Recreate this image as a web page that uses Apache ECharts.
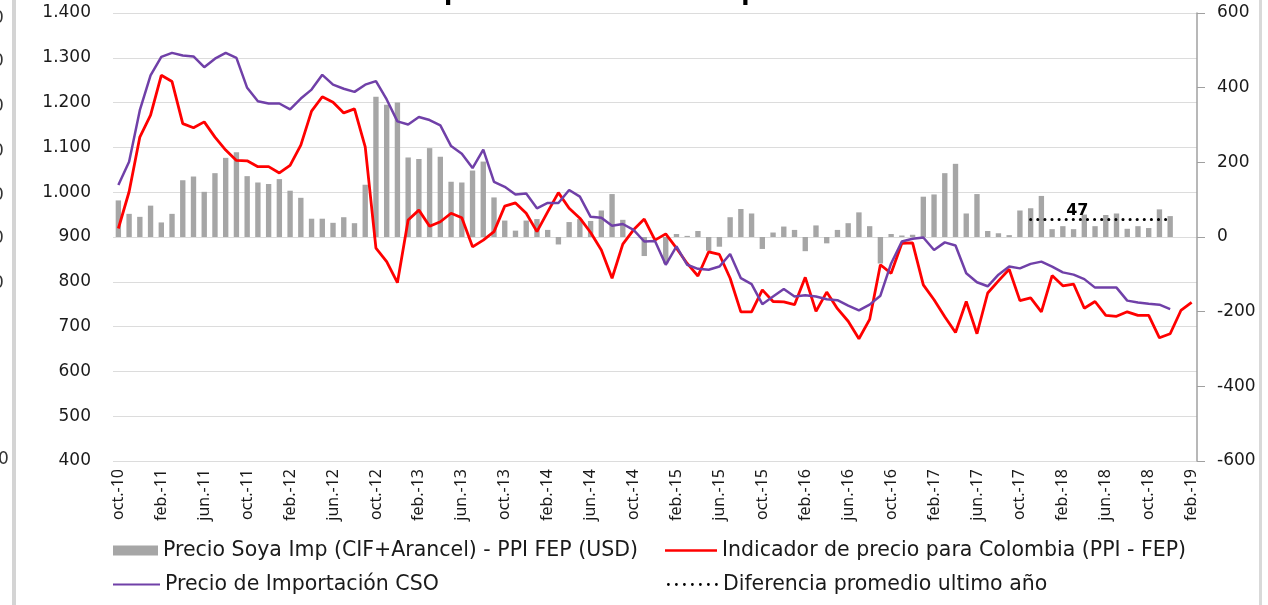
<!DOCTYPE html>
<html>
<head>
<meta charset="utf-8">
<script src="https://cdn.jsdelivr.net/npm/echarts@6/dist/echarts.min.js"></script>
<style>
  html, body { margin: 0; padding: 0; background: #ffffff; }
  #chart { width: 1268px; height: 605px; }
</style>
</head>
<body>
<div id="chart"></div>
<script>
// Monthly categories oct-10 .. feb-19
const monthNames = ['ene.', 'feb.', 'mar.', 'abr.', 'may.', 'jun.', 'jul.', 'ago.', 'sep.', 'oct.', 'nov.', 'dic.'];
const categories = [];
for (let k = 0; k < 101; k++) {
  const m = (9 + k) % 12;
  const y = 10 + Math.floor((9 + k) / 12);
  categories.push(monthNames[m] + '-' + y);
}

// Soya import price minus PPI FEP (USD), right axis
const soyaDiff = [
  98, 62, 54, 84, 39, 62, 152, 162, 121, 171, 212, 227, 163, 146, 142, 155, 124, 105, 49, 49,
  38, 53, 37, 140, 376, 354, 360, 213, 209, 238, 215, 148, 146, 178, 202, 106, 44, 17, 44, 48,
  19, -20, 40, 48, 43, 71, 115, 46, 0, -51, 0, -71, 8, 3, 16, -37, -26, 53, 75, 63,
  -32, 12, 28, 19, -38, 31, -17, 19, 37, 66, 29, -71, 8, 4, 6, 108, 114, 171, 196, 63,
  115, 16, 10, 5, 71, 77, 110, 21, 29, 21, 60, 29, 59, 63, 22, 29, 24, 74, 56, null,
  null
];

// Price indicator for Colombia (PPI - FEP), left axis
const indicadorColombia = [
  919, 1001, 1123, 1172, 1261, 1247, 1153, 1144, 1157, 1123, 1094, 1071, 1070, 1057, 1057, 1043, 1060, 1105, 1181, 1213,
  1201, 1177, 1186, 1101, 875, 845, 798, 938, 960, 924, 934, 953, 943, 878, 893, 912, 969, 976, 953, 912,
  956, 999, 964, 942, 910, 871, 808, 884, 916, 940, 893, 907, 875, 841, 813, 867, 861, 808, 733, 733,
  782, 756, 755, 749, 810, 734, 777, 740, 712, 673, 716, 838, 819, 886, 887, 793, 760, 722, 687, 756,
  684, 775, 802, 828, 758, 764, 733, 814, 791, 795, 741, 756, 725, 723, 733, 725, 725, 675, 684, 736,
  754
];

// CSO import price, left axis
const precioImportacionCSO = [
  1016, 1068, 1183, 1261, 1302, 1311, 1305, 1303, 1279, 1298, 1311, 1300, 1233, 1203, 1198, 1198, 1185, 1209, 1229, 1262,
  1240, 1231, 1224, 1240, 1248, 1207, 1158, 1151, 1168, 1161, 1149, 1103, 1086, 1054, 1095, 1023, 1012, 995, 997, 964,
  976, 976, 1005, 990, 945, 943, 925, 929, 916, 890, 891, 838, 879, 838, 829, 827, 834, 862, 808, 795,
  750, 767, 784, 767, 770, 767, 761, 759, 747, 736, 749, 769, 841, 890, 896, 899, 871, 888, 881, 819,
  799, 790, 816, 834, 830, 840, 845, 834, 821, 816, 806, 787, 787, 787, 758, 754, 751, 749, 739, null,
  null
];

// Average difference over the last year (right axis)
const promedioValor = 47;
const promedioDesde = 85;
const promedioHasta = 98;
const promedioLabelIndex = 90;
const diferenciaPromedio = categories.map((c, i) => (i >= promedioDesde && i <= promedioHasta) ? promedioValor : null);

const leftTicks = { min: 400, max: 1400, interval: 100 };
const rightTicks = { min: -600, max: 600, interval: 200 };

const seriesNames = [
  'Precio Soya Imp (CIF+Arancel) - PPI FEP (USD)',
  'Indicador de precio para Colombia (PPI - FEP)',
  'Precio de Importación CSO',
  'Diferencia promedio ultimo año'
];

const FONT = 'DejaVu Sans';

function thousands(v) {
  if (v >= 1000) {
    return Math.floor(v / 1000) + '.' + String(v % 1000).padStart(3, '0');
  }
  return String(v);
}

// legend glyph: a row of round dots
function dotsPath(n, gap, r) {
  let d = '';
  for (let k = 0; k < n; k++) {
    const cx = r + k * gap;
    d += 'M' + (cx - r) + ',' + r + 'a' + r + ',' + r + ' 0 1,0 ' + (2 * r) + ',0a' + r + ',' + r + ' 0 1,0 ' + (-2 * r) + ',0z';
  }
  return 'path://' + d;
}

const chart = echarts.init(document.getElementById('chart'), null, { renderer: 'canvas' });

const legendBase = {
  orient: 'horizontal',
  textStyle: { fontFamily: FONT, fontSize: 20.5, color: '#1a1a1a' },
  selectedMode: false,
  padding: 0
};

// edge digits left over from the neighbouring panel
const edgeZeros = [20, 63, 108, 153, 197, 240, 285].map(y => ({
  type: 'text', left: -7, top: y - 10,
  style: { text: '0', font: '17px "DejaVu Sans"', fill: '#333' }
}));
edgeZeros.push({
  type: 'text', left: -2, top: 451,
  style: { text: '0', font: '17px "DejaVu Sans"', fill: '#333' }
});

chart.setOption({
  animation: false,
  backgroundColor: '#ffffff',
  title: {
    text: 'precio local aceite de palma',
    left: 'center',
    top: -23,
    textStyle: { fontFamily: FONT, fontSize: 24, fontWeight: 'bold', color: '#000' }
  },
  graphic: [
    { type: 'rect', shape: { x: 12, y: 0, width: 4, height: 605 }, style: { fill: '#d4d4d4' }, silent: true },
    { type: 'rect', shape: { x: 1259, y: 0, width: 3, height: 605 }, style: { fill: '#d9d9d9' }, silent: true }
  ].concat(edgeZeros),
  legend: [
    Object.assign({}, legendBase, { data: [{ name: seriesNames[0], icon: 'rect' }], left: 113, top: 540, itemWidth: 45, itemHeight: 10 }),
    Object.assign({}, legendBase, { data: [{ name: seriesNames[1], icon: 'rect' }], left: 665, top: 540, itemWidth: 52, itemHeight: 2.5 }),
    Object.assign({}, legendBase, { data: [{ name: seriesNames[2], icon: 'rect' }], left: 113, top: 574, itemWidth: 47, itemHeight: 2 }),
    Object.assign({}, legendBase, { data: [{ name: seriesNames[3], icon: dotsPath(7, 8, 1.4) }], left: 667, top: 574, itemWidth: 51, itemHeight: 2.8 })
  ],
  grid: { left: 113, right: 71, top: 13, bottom: 144, containLabel: false },
  xAxis: {
    type: 'category',
    data: categories,
    boundaryGap: true,
    axisLine: { show: false },
    axisTick: { show: false },
    axisLabel: {
      interval: 3,
      rotate: 90,
      margin: 8,
      fontFamily: 'Noto Sans',
      fontSize: 16,
      color: '#1a1a1a'
    },
    splitLine: { show: false }
  },
  yAxis: [
    {
      type: 'value',
      position: 'left',
      min: leftTicks.min, max: leftTicks.max, interval: leftTicks.interval,
      axisLine: { show: false },
      axisTick: { show: false },
      axisLabel: { formatter: thousands, margin: 22, fontFamily: FONT, fontSize: 17, color: '#1a1a1a' },
      splitLine: { show: true, lineStyle: { color: '#dcdcdc', width: 1 } }
    },
    {
      type: 'value',
      position: 'right',
      min: rightTicks.min, max: rightTicks.max, interval: rightTicks.interval,
      axisLine: { show: true, lineStyle: { color: '#a0a0a0', width: 1.5 } },
      axisTick: { show: true, inside: false, length: 8, lineStyle: { color: '#a0a0a0', width: 1 } },
      axisLabel: { margin: 20, fontFamily: FONT, fontSize: 17, color: '#1a1a1a' },
      splitLine: { show: false }
    }
  ],
  series: [
    {
      name: seriesNames[0],
      type: 'bar',
      yAxisIndex: 1,
      data: soyaDiff,
      barWidth: '50%',
      itemStyle: { color: '#a6a6a6' },
      z: 1
    },
    {
      name: seriesNames[1],
      type: 'line',
      yAxisIndex: 0,
      data: indicadorColombia,
      symbol: 'none',
      itemStyle: { color: '#ff0000' },
      lineStyle: { color: '#ff0000', width: 2.8 },
      z: 3
    },
    {
      name: seriesNames[2],
      type: 'line',
      yAxisIndex: 0,
      data: precioImportacionCSO,
      symbol: 'none',
      itemStyle: { color: '#7040a8' },
      lineStyle: { color: '#7040a8', width: 2.5 },
      z: 4
    },
    {
      name: seriesNames[3],
      type: 'line',
      yAxisIndex: 1,
      data: diferenciaPromedio,
      symbol: 'none',
      itemStyle: { color: '#000000' },
      lineStyle: { color: '#000000', width: 3, type: [0.1, 7], cap: 'round' },
      markPoint: {
        symbol: 'circle',
        symbolSize: 0,
        data: [{
          coord: [promedioLabelIndex, promedioValor],
          value: promedioValor
        }],
        label: {
          show: true,
          position: 'top',
          distance: 1,
          offset: [-7, 0],
          formatter: '{c}',
          fontFamily: FONT,
          fontSize: 16,
          fontWeight: 'bold',
          color: '#000'
        }
      },
      z: 5
    }
  ]
});
</script>
</body>
</html>
